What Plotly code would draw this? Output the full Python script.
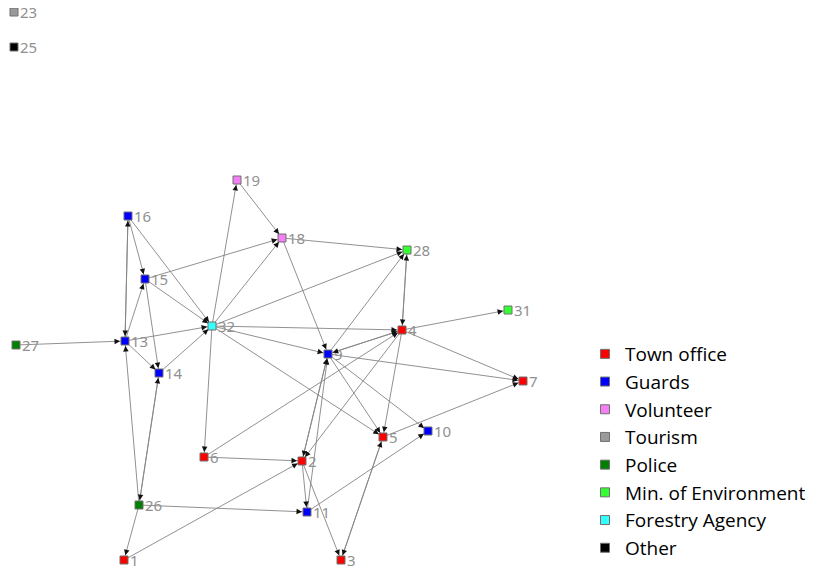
import plotly.graph_objects as go

# ---- data ----
node_ids = [1, 2, 3, 4, 5, 6, 7, 9, 10, 11, 13, 14, 15, 16, 18, 19, 23, 25, 26, 27, 28, 31, 32]
node_x = [124, 302, 341, 402, 383, 204, 523, 328, 428, 307, 125, 159, 145, 128, 282, 237, 14, 14, 139, 16, 407, 508, 212]
node_y = [560, 461, 560, 330, 437, 457, 381, 354, 431, 512, 341, 373, 279, 216, 238, 180, 12, 47, 505, 345, 250, 310, 326]
node_group = ["Town office", "Town office", "Town office", "Town office", "Town office", "Town office", "Town office",
              "Guards", "Guards", "Guards", "Guards", "Guards", "Guards", "Guards",
              "Volunteer", "Volunteer", "Tourism", "Other", "Police", "Police",
              "Min. of Environment", "Min. of Environment", "Forestry Agency"]

groups = ["Town office", "Guards", "Volunteer", "Tourism", "Police",
          "Min. of Environment", "Forestry Agency", "Other"]
group_colors = ["#FF0000", "#0000FF", "#F47FF4", "#9A9A9A", "#008000",
                "#33FF33", "#33FFFF", "#000000"]

edge_src = [32, 19, 15, 32, 18, 32, 9, 18, 28, 4, 32, 4, 4, 9, 32, 9, 4, 9, 9, 32, 4, 4, 6, 5, 3,
            5, 11, 2, 2, 6, 1, 26, 26, 26, 14, 26, 32, 16, 13, 16, 16, 15, 15, 13, 13, 13, 14, 27, 2, 11, 9]
edge_dst = [19, 18, 18, 18, 28, 28, 28, 9, 4, 28, 4, 31, 7, 7, 9, 4, 9, 5, 10, 5, 5, 2, 4, 3, 5,
            7, 10, 11, 3, 2, 2, 11, 1, 14, 26, 13, 6, 13, 16, 15, 32, 32, 14, 15, 32, 14, 32, 13, 9, 9, 2]

# ---- figure ----
pos = {n: (x, y) for n, x, y in zip(node_ids, node_x, node_y)}

ex, ey = [], []
for s, d in zip(edge_src, edge_dst):
    ex += [pos[s][0], pos[d][0], None]
    ey += [pos[s][1], pos[d][1], None]

fig = go.Figure()
fig.add_trace(go.Scatter(x=ex, y=ey, mode="lines", line=dict(color="#858585", width=0.9),
                         hoverinfo="skip", showlegend=False))

for g, c in zip(groups, group_colors):
    xs = [x for x, gg in zip(node_x, node_group) if gg == g]
    ys = [y for y, gg in zip(node_y, node_group) if gg == g]
    ts = [str(n) for n, gg in zip(node_ids, node_group) if gg == g]
    fig.add_trace(go.Scatter(
        x=xs, y=ys, mode="markers", name=g, showlegend=False, cliponaxis=False,
        marker=dict(symbol="square", size=8, color=c, line=dict(color="#707070", width=1))))
    fig.add_trace(go.Scatter(
        x=[x + 6 for x in xs], y=[y + 2 for y in ys], mode="text", text=ts,
        textposition="middle right", showlegend=False, cliponaxis=False,
        textfont=dict(family="Noto Sans", size=15, color="#909090"), hoverinfo="skip"))

# legend-only entries (slightly larger squares, as in the reference legend)
for g, c in zip(groups, group_colors):
    fig.add_trace(go.Scatter(
        x=[None], y=[None], mode="markers", name=g, legendgroup=g, showlegend=True,
        marker=dict(symbol="square", size=9, color=c, line=dict(color="#707070", width=1))))

annotations = []
for s, d in zip(edge_src, edge_dst):
    x0, y0 = pos[s]
    x1, y1 = pos[d]
    dx, dy = x1 - x0, y1 - y0
    L = (dx * dx + dy * dy) ** 0.5
    ux, uy = dx / L, dy / L
    annotations.append(dict(
        x=x1, y=y1, ax=x1 - ux * 11, ay=y1 - uy * 11, xref="x", yref="y", axref="x", ayref="y",
        showarrow=True, arrowhead=2, arrowsize=1.0, arrowwidth=1.1, arrowcolor="#111111",
        standoff=5, text=""))

# The page has an 8px body margin, so the figure is 812x564 and covers page pixels 8..820 / 8..572.
W, H = 812, 564
fig.update_layout(
    width=W, height=H,
    margin=dict(l=0, r=0, t=0, b=0),
    paper_bgcolor="white", plot_bgcolor="white",
    xaxis=dict(range=[8, 820], visible=False, fixedrange=True),
    yaxis=dict(range=[572, 8], visible=False, fixedrange=True),
    annotations=annotations,
    legend=dict(x=577 / W, y=1 - 327 / H, xanchor="left", yanchor="top",
                font=dict(family="Open Sans", size=19, color="#000000"),
                tracegroupgap=0, bgcolor="rgba(0,0,0,0)"),
    showlegend=True,
)

fig.write_html("out.html")
